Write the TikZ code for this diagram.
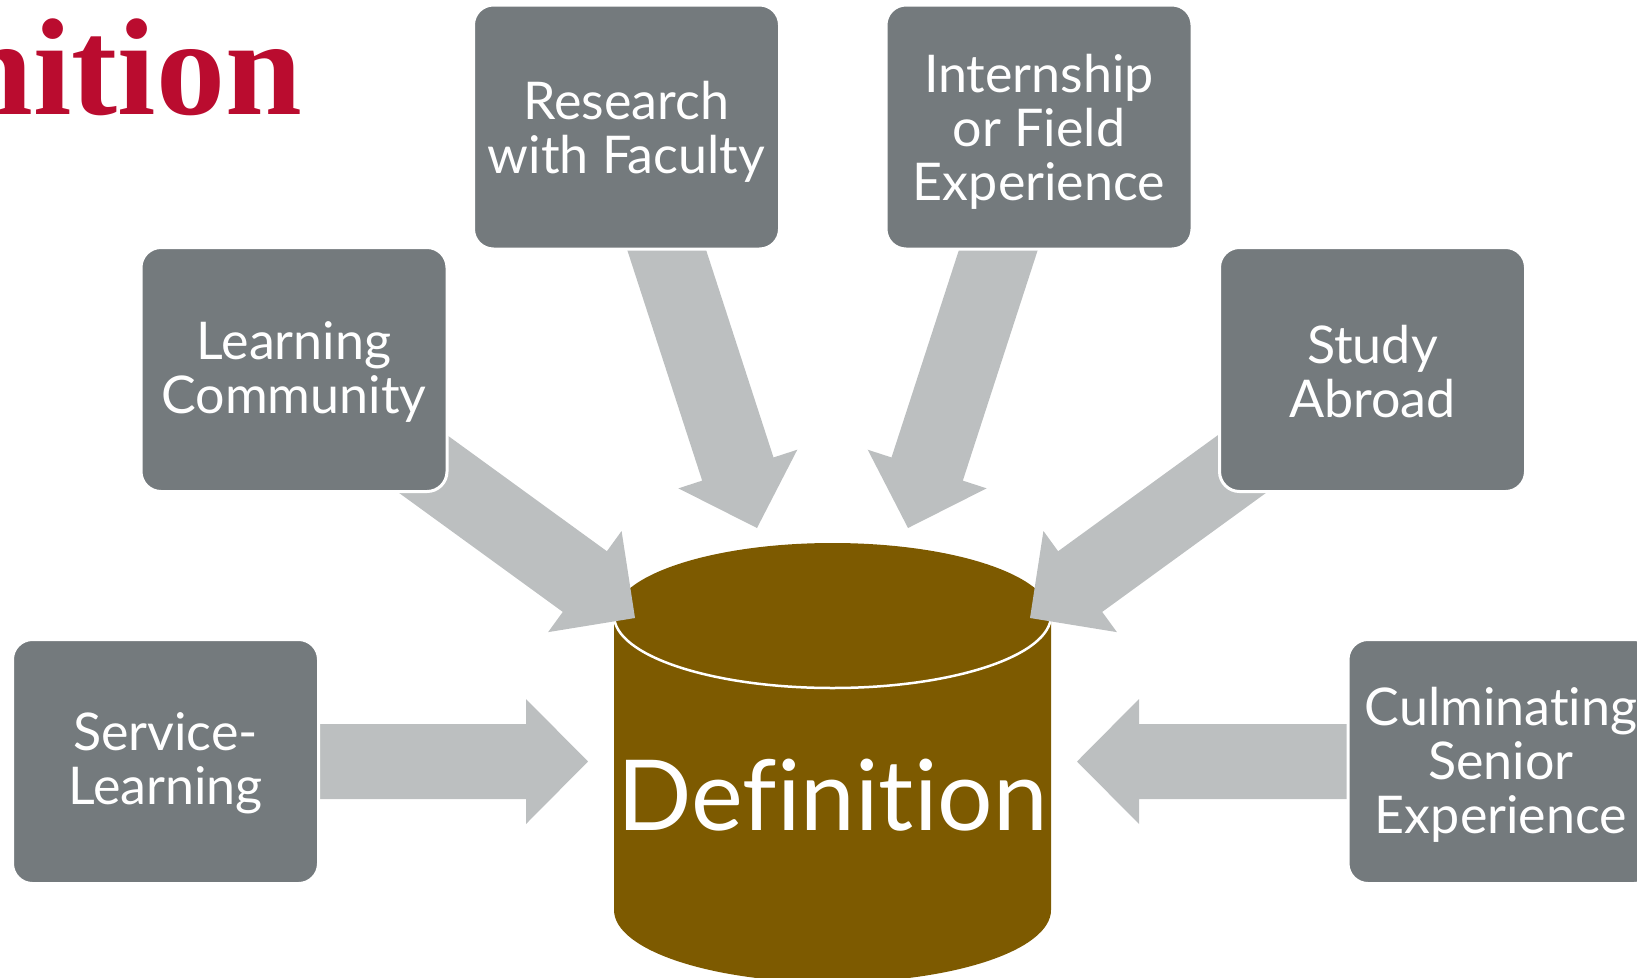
\documentclass[tikz,border=0pt]{standalone}
\usepackage{fontspec}
\setmainfont{Lato}[Ligatures={NoCommon,NoContextual}]
\newfontfamily\titlefont{Liberation Serif}
\definecolor{boxgray}{RGB}{116,122,125}
\definecolor{arrowgray}{RGB}{188,191,192}
\definecolor{cylbrown}{RGB}{125,90,0}
\definecolor{titlered}{RGB}{186,12,47}
\newcommand\blockarrow[3]{%
  \fill[arrowgray, shift={(#1)}, rotate=#2]
    (0,0) -- (-62,-62.5) -- (-62,-37.5) -- (-#3,-37.5) -- (-#3,37.5)
    -- (-62,37.5) -- (-62,62.5) -- cycle;}
\begin{document}
\begin{tikzpicture}[x=1pt,y=-1pt,
  boxst/.style={draw=white, line width=3pt, fill=boxgray, rounded corners=20pt,
    minimum width=306pt, minimum height=244pt, inner sep=0pt},
  boxtext/.style={text=white, inner sep=0pt, align=center,
    font=\fontsize{52}{54}\selectfont},
  deftext/.style={text=white, inner sep=0pt, font=\fontsize{98}{110}\selectfont}]
\useasboundingbox (0,0) rectangle (1637,977);
\clip (0,0) rectangle (1637,977);
% cylinder
\fill[cylbrown] (614,615.5) -- (614,910)
  arc[start angle=180, end angle=0, x radius=218.5, y radius=72.5]
  -- (1051,615.5)
  arc[start angle=0, end angle=-180, x radius=218.5, y radius=72.5] -- cycle;
\draw[white, line width=2.5pt] (614,615.5)
  arc[start angle=180, end angle=0, x radius=218.5, y radius=72.5];
\node[deftext, anchor=base] (def) at (832.5,830) {Definition};
% arrow tips
\coordinate (tipSL) at (588,761.5);
\coordinate (tipLC) at (635,618);
\coordinate (tipRF) at (757,528);
\coordinate (tipIN) at (908,528);
\coordinate (tipSA) at (1030,618);
\coordinate (tipCS) at (1077,761.5);
\blockarrow{tipSL}{0}{340}
\blockarrow{tipLC}{-36}{330}
\blockarrow{tipRF}{-72}{330}
\blockarrow{tipIN}{-108}{330}
\blockarrow{tipSA}{-144}{330}
\blockarrow{tipCS}{180}{340}
% boxes
\node[boxst] (sl) at (165.5,761.5) {};
\node[boxst] (lc) at (294,369.5) {};
\node[boxst] (rf) at (626.5,127) {};
\node[boxst] (in) at (1039,127) {};
\node[boxst] (sa) at (1372.5,369.5) {};
\node[boxst] (cs) at (1501,761.5) {};
\node[boxtext] (slt) at ([yshift=-2pt]sl.center) {Service-\\Learning};
\node[boxtext] (lct) at ([yshift=-2pt]lc.center) {Learning\\Community};
\node[boxtext] (rft) at ([yshift=-5pt]rf.center) {Research\\with Faculty};
\node[boxtext] (int) at ([yshift=-5pt]in.center) {Internship\\or Field\\Experience};
\node[boxtext] (sat) at ([yshift=-2pt]sa.center) {Study\\Abroad};
\node[boxtext] (cst) at ([yshift=-3pt]cs.center) {Culminating\\Senior\\Experience};
% title
\node[anchor=base east, inner sep=0pt, text=titlered,
  font=\titlefont\bfseries\fontsize{138}{140}\selectfont] (title) at (302,114) {nition};
\end{tikzpicture}
\end{document}
